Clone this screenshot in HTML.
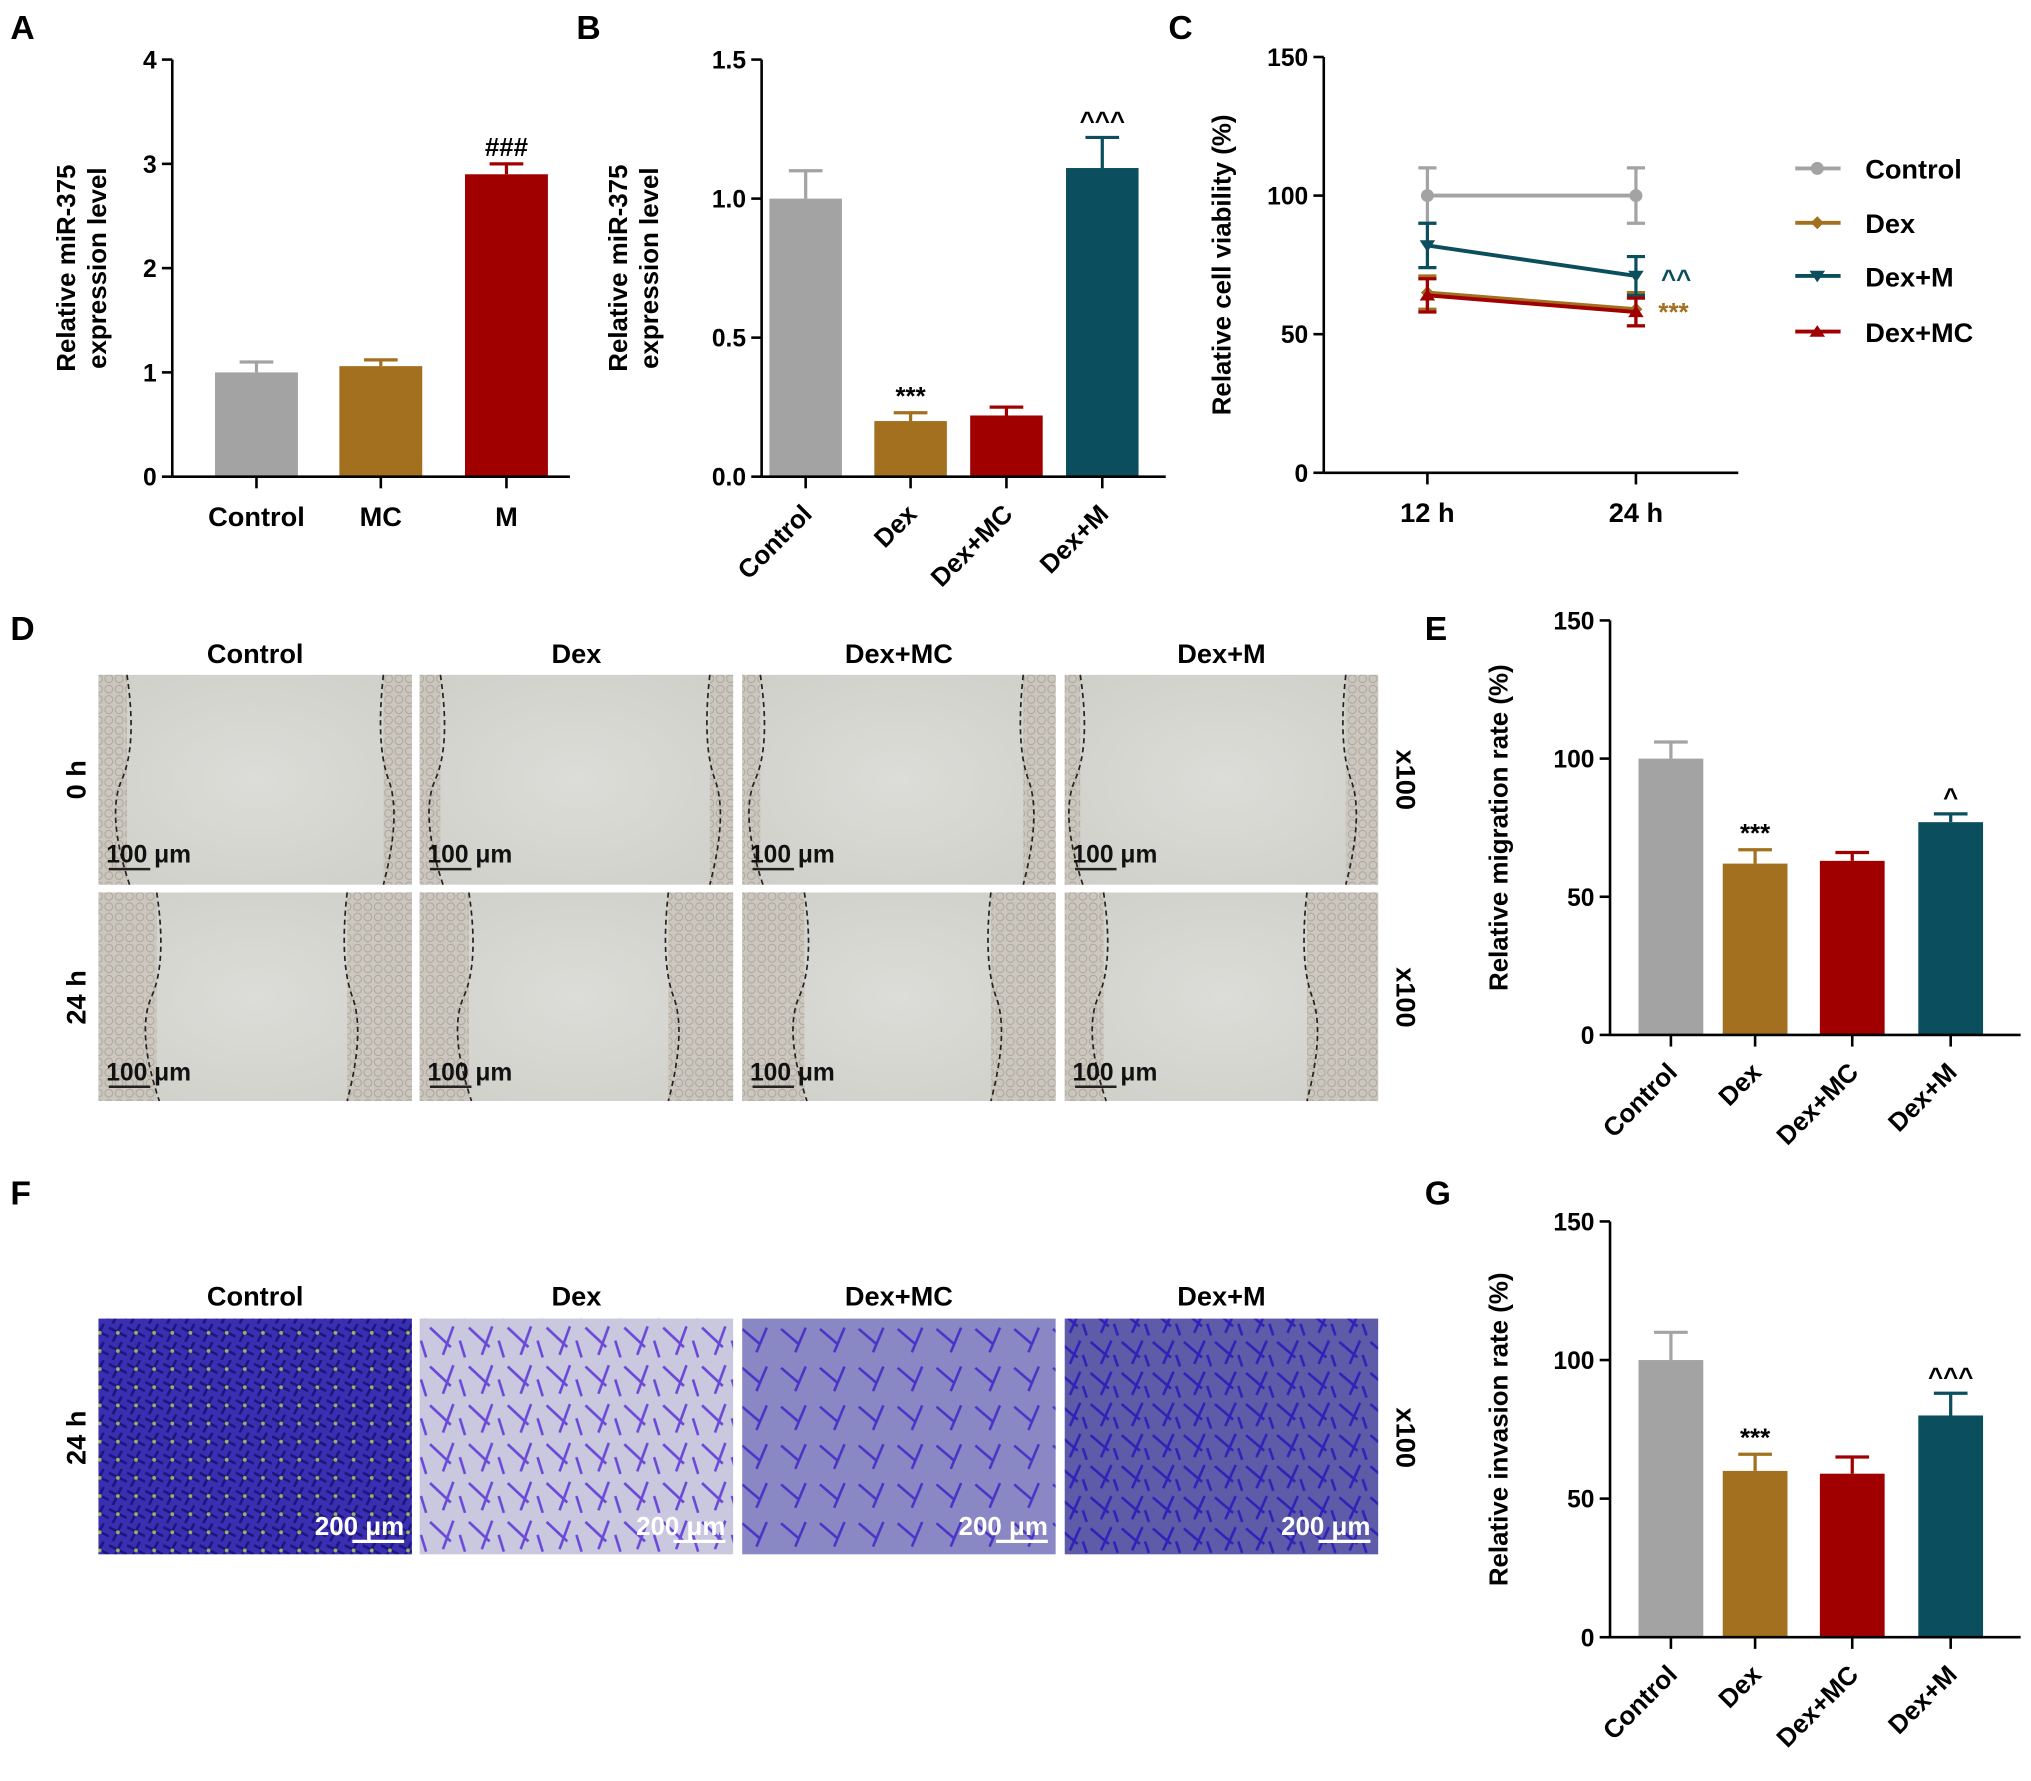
<!DOCTYPE html>
<html><head><meta charset="utf-8"><style>
html,body{margin:0;padding:0;background:#fff;}
svg{display:block;font-family:"Liberation Sans",Arial,sans-serif;font-weight:bold;}
</style></head><body>
<svg id="fig" width="2031" height="1781" viewBox="0 0 1568 1375" xmlns="http://www.w3.org/2000/svg">
<defs>
<radialGradient id="scratch" cx="50%" cy="50%" r="70%"><stop offset="0" stop-color="#dcdcd8"/><stop offset="1" stop-color="#cfcfca"/></radialGradient>
<pattern id="cells" width="8" height="8" patternUnits="userSpaceOnUse"><rect width="8" height="8" fill="#c9c2b8"/><circle cx="4" cy="4" r="3" fill="none" stroke="#9e968a" stroke-width="0.8"/></pattern>
<pattern id="purpleA" width="14" height="14" patternUnits="userSpaceOnUse"><rect width="14" height="14" fill="#3a2fb0"/><path d="M0 3L14 10M3 14L10 0" stroke="#1b1580" stroke-width="2"/><circle cx="7" cy="7" r="1.5" fill="#9fae6a"/></pattern>
<pattern id="purpleB" width="30" height="30" patternUnits="userSpaceOnUse"><rect width="30" height="30" fill="#c9c8df"/><path d="M2 5L18 20M20 4L12 26M25 15L29 28" stroke="#6a48d8" stroke-width="2"/></pattern>
<pattern id="purpleC" width="30" height="30" patternUnits="userSpaceOnUse"><rect width="30" height="30" fill="#8a88c4"/><path d="M3 6L17 18M22 5L14 24" stroke="#4a34c8" stroke-width="2"/></pattern>
<pattern id="purpleD" width="24" height="24" patternUnits="userSpaceOnUse"><rect width="24" height="24" fill="#5e5ba8"/><path d="M2 4L16 16M18 3L10 21M20 14L23 23" stroke="#3022b8" stroke-width="2"/></pattern>
</defs>
<g id="root"></g>
</svg>
<script>
// Panel A data
const aCats=["Control","MC","M"];
const aVals=[1.0,1.06,2.9];
const aErrs=[0.1,0.06,0.1];
const aTicks=[0,1,2,3,4];
// Panel B data
const bCats=["Control","Dex","Dex+MC","Dex+M"];
const bVals=[1.0,0.2,0.22,1.11];
const bErrs=[0.1,0.03,0.03,0.11];
const bTicks=["0.0","0.5","1.0","1.5"];
// Panel C data
const cTimes=["12 h","24 h"];
const cSeriesNames=["Control","Dex","Dex+M","Dex+MC"];
const cControl=[100,100];
const cDex=[65,59];
const cDexM=[82,71];
const cDexMC=[64,58];
const cErrControl=[10,10];
const cErrDex=[6,6];
const cErrDexM=[8,7];
const cErrDexMC=[6,5];
const cTicks=[0,50,100,150];
// Panel E data
const eCats=["Control","Dex","Dex+MC","Dex+M"];
const eVals=[100,62,63,77];
const eErrs=[6,5,3,3];
const eTicks=[0,50,100,150];
// Panel G data
const gCats=["Control","Dex","Dex+MC","Dex+M"];
const gVals=[100,60,59,80];
const gErrs=[10,6,6,8];
const gTicks=[0,50,100,150];

const NS="http://www.w3.org/2000/svg";
const root=document.getElementById('root');
function el(tag,attrs,parent,text){const e=document.createElementNS(NS,tag);for(const k in attrs)e.setAttribute(k,attrs[k]);if(text!==undefined)e.textContent=text;(parent||root).appendChild(e);return e;}
const GRAY="#a3a3a3",BROWN="#a2701f",RED="#a00000",TEAL="#0b4f5e";
const barColors=[GRAY,BROWN,RED,TEAL];

function axisY(g,x,y0,y1,ticks,max,title,tx){
  let a=el('line',{x1:x,y1:y0,x2:x,y2:y1,stroke:'#000','stroke-width':2},g);
  
  
  ticks.forEach(t=>{const v=parseFloat(t);const y=y0-(y0-y1)*v/max;
    el('line',{x1:x-8,y1:y,x2:x,y2:y,stroke:'#000','stroke-width':2},g);
    let l=el('text',{x:x-12,y:y+7,'text-anchor':'end','font-size':19},g,t);
    
    
  });
  const cy=(y0+y1)/2;
  title.forEach((line,i)=>{
    let t=el('text',{x:tx+i*24,y:cy,transform:`rotate(-90 ${tx+i*24} ${cy})`,'text-anchor':'middle','font-size':20},g,line);
    
    
  });
}
function barPanel(name,cats,vals,errs,ticks,max,ax,y0,y1,xEnd,centers,bw,colors,rotate,title,tx,stars,starColor){
  const g=el('g',{});
  
  
  const sy=v=>y0-(y0-y1)*v/max;
  cats.forEach((c,i)=>{
    const cx=centers[i];
    const ey=sy(vals[i]+errs[i]);
    el('line',{x1:cx,y1:sy(vals[i]),x2:cx,y2:ey,stroke:colors[i],'stroke-width':2.5},g);
    el('line',{x1:cx-13,y1:ey,x2:cx+13,y2:ey,stroke:colors[i],'stroke-width':2.5},g);
    let r=el('rect',{x:cx-bw/2,y:sy(vals[i]),width:bw,height:y0-sy(vals[i]),fill:colors[i]},g);
    
    
    el('line',{x1:cx,y1:y0,x2:cx,y2:y0+9,stroke:'#000','stroke-width':2},g);
    let t;
    if(rotate){t=el('text',{x:cx+6,y:y0+30,transform:`rotate(-45 ${cx+6} ${y0+30})`,'text-anchor':'end','font-size':20},g,c);}
    else{t=el('text',{x:cx,y:y0+38,'text-anchor':'middle','font-size':21},g,c);}
    
    
    if(stars[i]){let s=el('text',{x:cx,y:ey-6,'text-anchor':'middle','font-size':20,fill:starColor||'#000'},g,stars[i]);
      
      }
  });
  let xa=el('line',{x1:ax,y1:y0,x2:xEnd,y2:y0,stroke:'#000','stroke-width':2},g);
  
  
  axisY(g,ax,y0,y1,ticks,max,title,tx);
}
function label(t,x,y){let l=el('text',{x:x,y:y,'font-size':26},root,t);}

label('A',8,30);label('B',445,30);label('C',902,30);label('D',8,494);label('E',1100,494);label('F',8,930);label('G',1100,930);

barPanel('panel-a-chart',aCats,aVals,aErrs,aTicks,4,133,368,46,440,[198,294,391],64,[GRAY,BROWN,RED],false,['Relative miR-375','expression level'],58,['','','###']);
barPanel('panel-b-chart',bCats,bVals,bErrs,bTicks,1.5,588,368,46,900,[622,703,777,851],56,barColors,true,['Relative miR-375','expression level'],484,['','***','','^^^']);
barPanel('panel-e-chart',eCats,eVals,eErrs,eTicks,150,1243,799,479,1560,[1290,1355,1430,1506],50,barColors,true,['Relative migration rate (%)'],1164,['','***','','^']);
barPanel('panel-g-chart',gCats,gVals,gErrs,gTicks,150,1243,1264,943,1560,[1290,1355,1430,1506],50,barColors,true,['Relative invasion rate (%)'],1164,['','***','','^^^']);

// Panel C line chart
(function(){
  const g=el('g',{});
  
  
  const y0=365,y1=44,max=150,xs=[1102,1263];
  const sy=v=>y0-(y0-y1)*v/max;
  let xa=el('line',{x1:1022,y1:y0,x2:1342,y2:y0,stroke:'#000','stroke-width':2},g);
  
  
  cTimes.forEach((t,i)=>{el('line',{x1:xs[i],y1:y0,x2:xs[i],y2:y0+9,stroke:'#000','stroke-width':2},g);
    let l=el('text',{x:xs[i],y:y0+38,'text-anchor':'middle','font-size':21},g,t);
    
    });
  axisY(g,1022,y0,y1,cTicks,max,['Relative cell viability (%)'],950);
  const series=[cControl,cDex,cDexM,cDexMC];
  const errs=[cErrControl,cErrDex,cErrDexM,cErrDexMC];
  const cols=[GRAY,BROWN,TEAL,RED];
  const markers=['circle','diamond','tridown','triup'];
  function marker(m,x,y,c,p){
    if(m==='circle')return el('circle',{cx:x,cy:y,r:5,fill:c},p);
    if(m==='diamond')return el('polygon',{points:`${x},${y-5} ${x+5},${y} ${x},${y+5} ${x-5},${y}`,fill:c},p);
    if(m==='tridown')return el('polygon',{points:`${x-6},${y-4} ${x+6},${y-4} ${x},${y+5}`,fill:c},p);
    return el('polygon',{points:`${x-6},${y+4} ${x+6},${y+4} ${x},${y-5}`,fill:c},p);
  }
  series.forEach((s,k)=>{
    const sg=el('g',{},g);
    
    
    s.forEach((v,i)=>{const x=xs[i];
      el('line',{x1:x,y1:sy(v-errs[k][i]),x2:x,y2:sy(v+errs[k][i]),stroke:cols[k],'stroke-width':2.5},sg);
      el('line',{x1:x-7,y1:sy(v+errs[k][i]),x2:x+7,y2:sy(v+errs[k][i]),stroke:cols[k],'stroke-width':2.5},sg);
      el('line',{x1:x-7,y1:sy(v-errs[k][i]),x2:x+7,y2:sy(v-errs[k][i]),stroke:cols[k],'stroke-width':2.5},sg);});
    el('polyline',{points:s.map((v,i)=>xs[i]+','+sy(v)).join(' '),fill:'none',stroke:cols[k],'stroke-width':3},sg);
    s.forEach((v,i)=>{let m=marker(markers[k],xs[i],sy(v),cols[k],sg);
      
      });
    // legend
    const ly=[130,172,213,256][k];
    const lg=el('g',{},root);
    
    
    el('line',{x1:1386,y1:ly,x2:1421,y2:ly,stroke:cols[k],'stroke-width':3},lg);
    marker(markers[k],1403,ly,cols[k],lg);
    el('text',{x:1440,y:ly+8,'font-size':21},lg,cSeriesNames[k]);
  });
  let s1=el('text',{x:1294,y:222,'text-anchor':'middle','font-size':20,fill:TEAL},g,'^^');
  
  
  let s2=el('text',{x:1292,y:248,'text-anchor':'middle','font-size':20,fill:BROWN},g,'***');
  
  
})();

// Image panels D and F
const imgCols=["Control","Dex","Dex+MC","Dex+M"];
const colX=[76,324,573,822];
const colW=242;
imgCols.forEach((c,i)=>{
  let h=el('text',{x:colX[i]+121,y:512,'text-anchor':'middle','font-size':21},root,c);
  
  
  let h2=el('text',{x:colX[i]+121,y:1008,'text-anchor':'middle','font-size':21},root,c);
  
  
  [[521,162,18,0],[689,161,45+i*3,1]].forEach(([y,hh,w,row])=>{
    const g=el('g',{});
    
    
    el('rect',{x:colX[i],y:y,width:colW,height:hh,fill:'url(#scratch)'},g);
    const lw=row?[45,38,48,30][i]:[22,16,14,12][i];
    const rw=row?[50,50,50,55][i]:[22,18,25,25][i];
    el('rect',{x:colX[i],y:y,width:lw,height:hh,fill:'url(#cells)',opacity:0.7},g);
    el('rect',{x:colX[i]+colW-rw,y:y,width:rw,height:hh,fill:'url(#cells)',opacity:0.7},g);
    el('path',{d:`M${colX[i]+lw} ${y} q8 ${hh/3} -4 ${hh/2} t6 ${hh/2}`,fill:'none',stroke:'#222','stroke-width':1.3,'stroke-dasharray':'4 3'},g);
    el('path',{d:`M${colX[i]+colW-rw} ${y} q-6 ${hh/3} 4 ${hh/2} t-4 ${hh/2}`,fill:'none',stroke:'#222','stroke-width':1.3,'stroke-dasharray':'4 3'},g);
    el('line',{x1:colX[i]+8,y1:y+150,x2:colX[i]+40,y2:y+150,stroke:'#222','stroke-width':2},g);
    el('text',{x:colX[i]+6,y:y+145,'font-size':19,fill:'#111'},g,'100 μm');
  });
  const fg=el('g',{});
  
  
  el('rect',{x:colX[i],y:1018,width:colW,height:182,fill:['url(#purpleA)','url(#purpleB)','url(#purpleC)','url(#purpleD)'][i]},fg);
  el('line',{x1:colX[i]+196,y1:1190,x2:colX[i]+236,y2:1190,stroke:'#fff','stroke-width':2.5},fg);
  el('text',{x:colX[i]+236,y:1185,'text-anchor':'end','font-size':20,fill:'#fff'},fg,'200 μm');
});
[['0 h',602],['24 h',770],['24 h',1110]].forEach(([t,y])=>{
  let r=el('text',{x:66,y:y,transform:`rotate(-90 66 ${y})`,'text-anchor':'middle','font-size':21},root,t);
  
  
});
[602,770,1110].forEach(y=>{
  let r=el('text',{x:1078,y:y,transform:`rotate(90 1078 ${y})`,'text-anchor':'middle','font-size':21},root,'x100');
  
  
});
</script>
</body></html>
